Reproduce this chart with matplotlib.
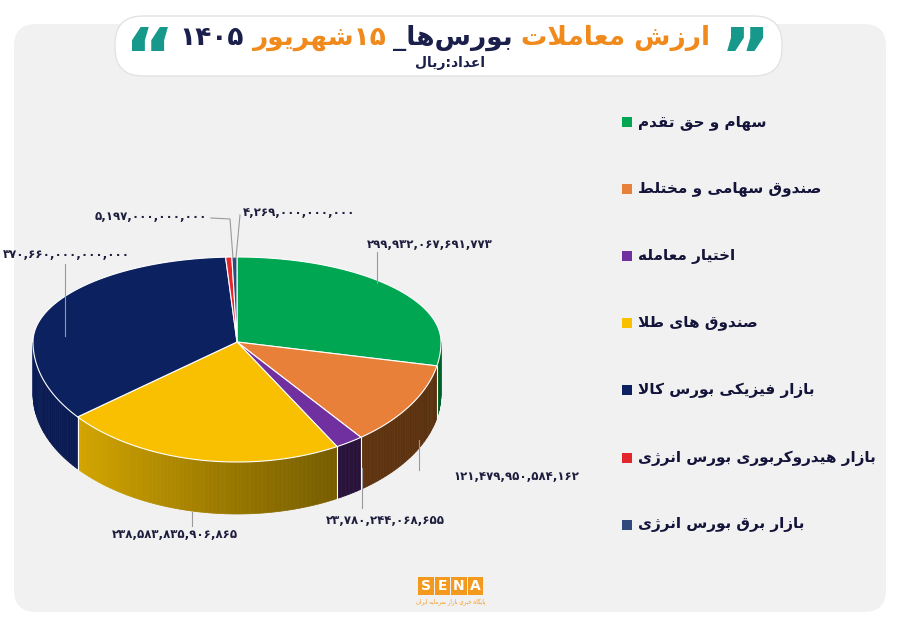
import numpy as np
import matplotlib
matplotlib.use("Agg")
import matplotlib.pyplot as plt
from matplotlib.patches import Polygon, FancyBboxPatch, Rectangle

plt.rcParams['font.family'] = ['DejaVu Sans']

# ---------------- data ----------------
categories = ["سهام و حق تقدم", "صندوق سهامی و مختلط", "اختیار معامله", "صندوق های طلا",
              "بازار فیزیکی بورس کالا", "بازار هیدروکربوری بورس انرژی", "بازار برق بورس انرژی"]
values = [299932067691773, 121479950584162, 23780244068655, 238583835906865,
          370660000000000, 5197000000000, 4269000000000]
colors = ["#00a651", "#e8803a", "#7030a0", "#f8c000", "#0c2260", "#e3262b", "#2f4b7c"]
side_colors = ["#00702f", "#6a3a12", "#2d1540", "#c89a00", "#09184a", "#8a1010", "#1c2f52"]
title_parts = [("ارزش معاملات", "#f08a1c"), ("بورس‌ها_", "#1b1f4b"), ("۱۵شهریور", "#f08a1c"), ("۱۴۰۵", "#1b1f4b")]
subtitle = "اعداد:ریال"

# ---------------- simple Persian shaper ----------------
FORMS = {
 'ا': (0xFE8D, 0xFE8E, None, None), 'آ': (0xFE81, 0xFE82, None, None),
 'ب': (0xFE8F, 0xFE90, 0xFE91, 0xFE92), 'پ': (0xFB56, 0xFB57, 0xFB58, 0xFB59),
 'ت': (0xFE95, 0xFE96, 0xFE97, 0xFE98), 'ث': (0xFE99, 0xFE9A, 0xFE9B, 0xFE9C),
 'ج': (0xFE9D, 0xFE9E, 0xFE9F, 0xFEA0), 'چ': (0xFB7A, 0xFB7B, 0xFB7C, 0xFB7D),
 'ح': (0xFEA1, 0xFEA2, 0xFEA3, 0xFEA4), 'خ': (0xFEA5, 0xFEA6, 0xFEA7, 0xFEA8),
 'د': (0xFEA9, 0xFEAA, None, None), 'ذ': (0xFEAB, 0xFEAC, None, None),
 'ر': (0xFEAD, 0xFEAE, None, None), 'ز': (0xFEAF, 0xFEB0, None, None),
 'ژ': (0xFB8A, 0xFB8B, None, None), 'و': (0xFEED, 0xFEEE, None, None),
 'س': (0xFEB1, 0xFEB2, 0xFEB3, 0xFEB4), 'ش': (0xFEB5, 0xFEB6, 0xFEB7, 0xFEB8),
 'ص': (0xFEB9, 0xFEBA, 0xFEBB, 0xFEBC), 'ض': (0xFEBD, 0xFEBE, 0xFEBF, 0xFEC0),
 'ط': (0xFEC1, 0xFEC2, 0xFEC3, 0xFEC4), 'ظ': (0xFEC5, 0xFEC6, 0xFEC7, 0xFEC8),
 'ع': (0xFEC9, 0xFECA, 0xFECB, 0xFECC), 'غ': (0xFECD, 0xFECE, 0xFECF, 0xFED0),
 'ف': (0xFED1, 0xFED2, 0xFED3, 0xFED4), 'ق': (0xFED5, 0xFED6, 0xFED7, 0xFED8),
 'ک': (0xFB8E, 0xFB8F, 0xFB90, 0xFB91), 'گ': (0xFB92, 0xFB93, 0xFB94, 0xFB95),
 'ل': (0xFEDD, 0xFEDE, 0xFEDF, 0xFEE0), 'م': (0xFEE1, 0xFEE2, 0xFEE3, 0xFEE4),
 'ن': (0xFEE5, 0xFEE6, 0xFEE7, 0xFEE8), 'ه': (0xFEE9, 0xFEEA, 0xFEEB, 0xFEEC),
 'ی': (0xFBFC, 0xFBFD, 0xFBFE, 0xFBFF), 'ئ': (0xFE89, 0xFE8A, 0xFE8B, 0xFE8C),
}

def dual(c):
    return c in FORMS and FORMS[c][2] is not None

def shape(s):
    chars = list(s)
    out = []
    i = 0
    n = len(chars)
    while i < n:
        c = chars[i]
        if c == '\u200c':
            i += 1
            continue
        if c not in FORMS:
            out.append(c); i += 1; continue
        prev = chars[i-1] if i > 0 else None
        cp = prev is not None and dual(prev)
        if c == 'ل' and i + 1 < n and chars[i+1] in ('ا', 'آ'):
            out.append(chr(0xFEFC if cp else 0xFEFB))
            i += 2
            continue
        nxt = chars[i+1] if i + 1 < n else None
        cn = dual(c) and nxt is not None and nxt in FORMS
        iso, fin, ini, med = FORMS[c]
        if cp and cn:
            f = med
        elif cp:
            f = fin
        elif cn:
            f = ini
        else:
            f = iso
        out.append(chr(f))
        i += 1
    return ''.join(out[::-1])

def fa_num(v):
    s = f"{v:,}"
    return s.translate(str.maketrans("0123456789", "۰۱۲۳۴۵۶۷۸۹"))

# ---------------- figure ----------------
W, H = 900, 623
fig = plt.figure(figsize=(9, 6.23), dpi=100)
ax = fig.add_axes([0, 0, 1, 1])
ax.set_xlim(0, W)
ax.set_ylim(H, 0)
ax.axis('off')
fig.patch.set_facecolor('white')

ax.add_patch(FancyBboxPatch((14, 24), 872, 588, boxstyle="round,pad=0,rounding_size=22",
                            fc="#f1f1f1", ec="none", zorder=0))
ax.add_patch(FancyBboxPatch((115, 16), 667, 60, boxstyle="round,pad=0,rounding_size=28",
                            fc="white", ec="#e3e3e3", lw=1, zorder=1))

# ---------------- 3D pie ----------------
cx, cy = 237, 342
rx, ry_up, ry_dn = 204, 85, 120
depth = 52

def pt(th):
    s = np.sin(th)
    ry = ry_up if s >= 0 else ry_dn
    return cx + rx * np.cos(th), cy - ry * s

def mix(c, f):
    r, g, b = matplotlib.colors.to_rgb(c)
    return tuple(min(1, x * f) for x in (r, g, b))

total = float(sum(values))
start = np.pi / 2
bounds = [start]
for v in values:
    bounds.append(bounds[-1] - 2 * np.pi * v / total)

# sides
for k in range(len(values)):
    a0, a1 = bounds[k], bounds[k + 1]
    ths = np.linspace(a0, a1, max(3, int(abs(a1 - a0) / 0.02)))
    for j in range(len(ths) - 1):
        t0, t1 = ths[j], ths[j + 1]
        tm = 0.5 * (t0 + t1)
        if np.sin(tm) >= 0.0:
            continue
        x0, y0 = pt(t0); x1, y1 = pt(t1)
        u = 0.5 - 0.5 * np.cos(tm)   # 1 at left, 0 at right
        if k == 3:
            col = mix("#e6b400", 0.42 + 0.58 * u ** 1.3)
        else:
            col = mix(side_colors[k], 0.85 + 0.3 * u)
        ax.add_patch(Polygon([(x0, y0), (x1, y1), (x1, y1 + depth), (x0, y0 + depth)],
                             closed=True, fc=col, ec=col, lw=0.5, zorder=2))
for b in bounds:
    if np.sin(b) < 0:
        x, y = pt(b)
        ax.plot([x, x], [y, y + depth], color="white", lw=0.8, zorder=3)

# tops
for k in range(len(values)):
    a0, a1 = bounds[k], bounds[k + 1]
    ths = np.linspace(a0, a1, max(3, int(abs(a1 - a0) / 0.01)))
    pts = [(cx, cy)] + [pt(t) for t in ths]
    ax.add_patch(Polygon(pts, closed=True, fc=colors[k], ec="white", lw=0.8, zorder=4))

# ---------------- value labels ----------------
label_pos = [(430, 244, 'center'), (453, 477, 'left'), (385, 521, 'center'), (175, 534, 'center'),
             (66, 254, 'center'), (207, 216, 'right'), (243, 213, 'left')]
leaders = [[(377, 252), (377, 283)], [(419, 470), (419, 440)], [(362, 508), (362, 468)],
           [(192, 526), (192, 512)], [(65, 264), (65, 336)], [(211, 218), (230, 219), (233, 258)],
           [(240, 215), (236, 258)]]
for k, v in enumerate(values):
    x, y, ha = label_pos[k]
    ax.text(x, y, fa_num(v), ha=ha, va='center', fontsize=8.5, fontweight='bold',
            color="#1d1d3d", zorder=6)
    L = np.array(leaders[k])
    ax.plot(L[:, 0], L[:, 1], color="#9a9a9a", lw=0.8, zorder=5)

# ---------------- legend ----------------
leg_y = [122, 189, 256, 323, 390, 458, 525]
for k, cat in enumerate(categories):
    ax.add_patch(Rectangle((622, leg_y[k] - 5), 10, 10, fc=colors[k], ec="none", zorder=5))
    ax.text(638, leg_y[k], shape(cat), ha='left', va='center', fontsize=11,
            fontweight='bold', color="#14143a", zorder=6)

# ---------------- title ----------------
fig.canvas.draw()
r = fig.canvas.get_renderer()
xr = 710
for txt, col in title_parts:
    if txt == "۱۵شهریور":
        s = shape("شهریور") + "۱۵"
    elif txt[0] in "۰۱۲۳۴۵۶۷۸۹":
        s = txt
    else:
        s = shape(txt)
    t = ax.text(xr, 38, s, ha='right', va='center', fontsize=19, fontweight='bold', color=col, zorder=6)
    bb = t.get_window_extent(renderer=r)
    xr -= bb.width + 8
ax.text(450, 63, shape(subtitle), ha='center', va='center', fontsize=10, fontweight='bold',
        color="#1b1f4b", zorder=6)
ax.text(745, 62, "\u201d", ha='center', va='center', fontsize=56, fontweight='bold', color="#16998a", zorder=6)
ax.text(150, 62, "\u201c", ha='center', va='center', fontsize=56, fontweight='bold', color="#16998a", zorder=6)

# ---------------- logo ----------------
for i, ch in enumerate("SENA"):
    ax.add_patch(Rectangle((418 + i * 16.5, 577), 15.5, 18, fc="#f39a1e", ec="none", zorder=5))
    ax.text(418 + i * 16.5 + 7.75, 586, ch, ha='center', va='center', fontsize=10,
            fontweight='bold', color='white', zorder=6)
ax.text(451, 602, shape("پایگاه خبری بازار سرمایه ایران"), ha='center', va='center',
        fontsize=4, color="#f39a1e", zorder=6)

fig.savefig("out.png", dpi=100)
